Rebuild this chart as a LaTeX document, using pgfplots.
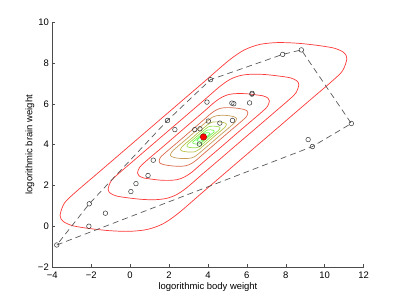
\documentclass[border=0pt]{standalone}
\usepackage{fontspec}
\setmainfont{Liberation Sans}
\usepackage{pgfplots}
\pgfplotsset{compat=1.18}
\definecolor{cA}{rgb}{1,0.22,0.22}
\definecolor{cB}{rgb}{0.86,0.42,0.30}
\definecolor{cC}{rgb}{0.78,0.62,0.35}
\definecolor{cD}{rgb}{0.72,0.76,0.30}
\definecolor{cE}{rgb}{0.60,0.88,0.30}
\definecolor{cF}{rgb}{0.45,0.95,0.30}
\definecolor{cG}{rgb}{0.30,1.00,0.30}
\begin{document}
\begin{tikzpicture}
\useasboundingbox (0,0) rectangle (402bp,302bp);
\begin{axis}[
  at={(52.3bp,35bp)}, anchor=south west,
  scale only axis, width=311.3bp, height=244.6bp,
  xmin=-4, xmax=12, ymin=-2, ymax=10,
  axis lines*=left,
  axis line style={-, draw=black!70},
  tick align=inside, major tick length=3bp,
  tick style={draw=black!70, line width=0.5bp},
  xtick={-4,-2,0,2,4,6,8,10,12},
  xticklabels={−4,−2,0,2,4,6,8,10,12},
  ytick={-2,0,2,4,6,8,10},
  yticklabels={−2,0,2,4,6,8,10},
  tick label style={font=\fontsize{9.5}{11}\selectfont},
  xticklabel style={yshift=-1.5bp},
  label style={font=\fontsize{9.5}{11}\selectfont},
  xlabel={logorithmic body weight},
  ylabel={logorithmic brain weight},
  x label style={at={(axis description cs:0.5,-0.0805)}, anchor=center},
  y label style={at={(axis description cs:-0.0716,0.5)}, anchor=center},
]
% contour 1 (outer)
\addplot[cA, line width=0.7bp, smooth] coordinates {
(1.77,5.42) (-0.23,3.78) (-1.73,2.55) (-2.83,1.65) (-3.38,1.13) (-3.60,0.53)
(-3.43,0.23) (-2.93,0.02) (-2.03,-0.12) (-1.03,-0.22) (-0.03,-0.25) (0.87,-0.16)
(1.67,0.11) (2.47,0.63) (3.77,1.70) (5.77,3.34) (7.77,4.98) (9.27,6.21)
(10.37,7.11) (10.92,7.63) (11.14,8.23) (10.97,8.53) (10.47,8.74) (9.57,8.88)
(8.57,8.98) (7.57,9.01) (6.67,8.92) (5.87,8.65) (5.07,8.13) (3.77,7.06) (1.77,5.42)};
% contour 2
\addplot[cA, line width=0.7bp, smooth] coordinates {
(2.44,5.07) (1.11,3.98) (0.11,3.16) (-0.62,2.56) (-0.98,2.22) (-1.13,1.82)
(-1.02,1.62) (-0.69,1.48) (-0.09,1.39) (0.58,1.32) (1.24,1.30) (1.84,1.36)
(2.37,1.54) (2.91,1.89) (3.77,2.60) (5.10,3.69) (6.43,4.78) (7.43,5.60)
(8.16,6.20) (8.52,6.54) (8.67,6.94) (8.56,7.14) (8.23,7.28) (7.63,7.37)
(6.96,7.44) (6.30,7.46) (5.70,7.40) (5.17,7.22) (4.63,6.87) (3.77,6.16) (2.44,5.07)};
% contour 3
\addplot[cA, line width=0.7bp, smooth] coordinates {
(2.85,4.86) (1.93,4.10) (1.24,3.54) (0.73,3.12) (0.48,2.88) (0.38,2.61)
(0.46,2.47) (0.69,2.37) (1.10,2.31) (1.56,2.26) (2.02,2.25) (2.44,2.29)
(2.80,2.42) (3.17,2.65) (3.77,3.15) (4.69,3.90) (5.61,4.66) (6.30,5.22)
(6.81,5.64) (7.06,5.88) (7.16,6.15) (7.08,6.29) (6.85,6.39) (6.44,6.45)
(5.98,6.50) (5.52,6.51) (5.10,6.47) (4.74,6.34) (4.37,6.11) (3.77,5.61) (2.85,4.86)};
% contour 4
\addplot[cB, line width=0.7bp, smooth] coordinates {
(3.15,4.70) (2.53,4.19) (2.06,3.81) (1.72,3.53) (1.55,3.37) (1.49,3.19)
(1.54,3.09) (1.69,3.03) (1.97,2.98) (2.28,2.95) (2.59,2.94) (2.87,2.97)
(3.12,3.06) (3.37,3.22) (3.77,3.55) (4.39,4.06) (5.01,4.57) (5.48,4.95)
(5.82,5.23) (5.99,5.39) (6.05,5.57) (6.00,5.67) (5.85,5.73) (5.57,5.78)
(5.26,5.81) (4.95,5.82) (4.67,5.79) (4.42,5.70) (4.17,5.54) (3.77,5.21) (3.15,4.70)};
% contour 5
\addplot[cC, line width=0.7bp, smooth] coordinates {
(3.31,4.62) (2.85,4.24) (2.50,3.96) (2.25,3.75) (2.13,3.63) (2.07,3.49)
(2.11,3.43) (2.23,3.38) (2.44,3.34) (2.67,3.32) (2.90,3.32) (3.10,3.34)
(3.29,3.40) (3.47,3.52) (3.77,3.76) (4.23,4.14) (4.69,4.52) (5.04,4.80)
(5.29,5.01) (5.41,5.13) (5.47,5.27) (5.43,5.33) (5.31,5.38) (5.10,5.42)
(4.87,5.44) (4.64,5.44) (4.44,5.42) (4.25,5.36) (4.07,5.24) (3.77,5.00) (3.31,4.62)};
% contour 6
\addplot[cD, line width=0.7bp, smooth] coordinates {
(3.45,4.55) (3.13,4.28) (2.89,4.09) (2.71,3.94) (2.63,3.86) (2.59,3.76)
(2.62,3.72) (2.70,3.68) (2.84,3.66) (3.00,3.64) (3.16,3.64) (3.31,3.65)
(3.43,3.70) (3.56,3.78) (3.77,3.95) (4.09,4.21) (4.41,4.48) (4.65,4.67)
(4.83,4.82) (4.91,4.90) (4.95,5.00) (4.92,5.04) (4.84,5.08) (4.70,5.10)
(4.54,5.12) (4.38,5.12) (4.23,5.11) (4.11,5.06) (3.98,4.98) (3.77,4.81) (3.45,4.55)};
% contour 7
\addplot[cE, line width=0.7bp, smooth] coordinates {
(3.54,4.50) (3.31,4.31) (3.14,4.17) (3.01,4.07) (2.95,4.01) (2.92,3.94)
(2.94,3.90) (3.00,3.88) (3.10,3.86) (3.22,3.85) (3.33,3.85) (3.44,3.86)
(3.53,3.89) (3.62,3.95) (3.77,4.07) (4.00,4.26) (4.23,4.45) (4.40,4.59)
(4.53,4.69) (4.59,4.75) (4.62,4.82) (4.60,4.86) (4.54,4.88) (4.44,4.90)
(4.32,4.91) (4.21,4.91) (4.10,4.90) (4.01,4.87) (3.92,4.81) (3.77,4.69) (3.54,4.50)};
% contour 8
\addplot[cF, line width=0.7bp, smooth] coordinates {
(3.62,4.46) (3.36,4.24) (3.23,4.14) (3.22,4.09) (3.27,4.05) (3.41,4.03)
(3.55,4.04) (3.67,4.10) (3.77,4.18) (3.92,4.30) (4.18,4.52) (4.31,4.62)
(4.32,4.67) (4.27,4.71) (4.13,4.73) (3.99,4.72) (3.87,4.66) (3.77,4.58) (3.62,4.46)};
% contour 9
\addplot[cG, line width=0.7bp, smooth] coordinates {
(3.68,4.43) (3.52,4.30) (3.45,4.23) (3.44,4.21) (3.47,4.18) (3.55,4.17)
(3.64,4.18) (3.71,4.21) (3.77,4.26) (3.86,4.33) (4.02,4.46) (4.09,4.53)
(4.10,4.55) (4.07,4.58) (3.99,4.59) (3.90,4.58) (3.83,4.55) (3.77,4.50) (3.68,4.43)};
% hull
\addplot[black!65, line width=0.7bp, dash pattern=on 6bp off 4bp] coordinates {
(-3.77,-0.92) (9.37,3.91) (11.37,5.04) (8.80,8.65) (7.84,8.43) (4.13,7.19)
(1.92,5.19) (-2.10,1.10) (-3.77,-0.92)};
% data points
\addplot[only marks, mark=o, mark size=2.3bp, mark options={draw=black!80, line width=0.5bp}] coordinates {
(0.30,2.09) (6.14,6.05) (3.59,4.78) (3.32,4.74) (0.04,1.70) (9.37,3.91)
(7.84,8.43) (5.23,6.04) (6.26,6.48) (2.30,4.74) (1.19,3.24) (6.27,6.52)
(5.33,6.01) (4.13,7.19) (8.80,8.65) (9.15,4.25) (1.92,5.19) (3.56,4.03)
(-2.12,0.00) (-3.77,-0.92) (0.92,2.49) (4.02,5.16) (4.61,5.06) (3.95,6.09)
(-1.27,0.64) (11.37,5.04) (-2.10,1.10) (5.26,5.19)};
% center
\addplot[only marks, mark=*, mark size=3.2bp, mark options={fill=red, draw=red!65!black, line width=0.5bp}] coordinates {(3.77,4.38)};
\end{axis}
\end{tikzpicture}
\end{document}
